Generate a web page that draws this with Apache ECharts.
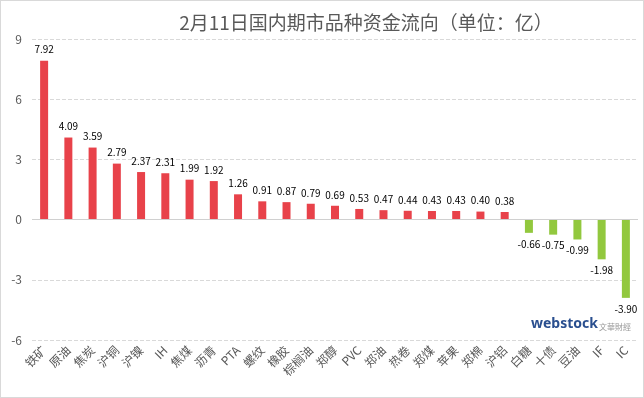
<!DOCTYPE html>
<html><head><meta charset="utf-8">
<script src="https://cdn.jsdelivr.net/npm/echarts@6/dist/echarts.min.js"></script>
<style>html,body{margin:0;padding:0;background:#fff}#c{width:644px;height:398px;box-sizing:border-box;border:1px solid #d9d9d9}</style>
</head><body><div id="c"></div>
<script>
const titleText = '2月11日国内期市品种资金流向（单位：亿）';
const categories = ['铁矿','原油','焦炭','沪铜','沪镍','IH','焦煤','沥青','PTA','螺纹','橡胶','棕榈油','郑醇','PVC','郑油','热卷','郑煤','苹果','郑棉','沪铝','白糖','十债','豆油','IF','IC'];
const values = [7.92,4.09,3.59,2.79,2.37,2.31,1.99,1.92,1.26,0.91,0.87,0.79,0.69,0.53,0.47,0.44,0.43,0.43,0.40,0.38,-0.66,-0.75,-0.99,-1.98,-3.90];
const yTicks = {min:-6, max:9, interval:3};
const posColor = '#E8424A', negColor = '#92C83E';
const chart = echarts.init(document.getElementById('c'), null, {renderer:'canvas'});
chart.setOption({
  animation:false,
  title:{text:titleText,left:360,top:7,textAlign:'center',textStyle:{fontFamily:'Noto Sans CJK SC',fontSize:19,fontWeight:'normal',color:'#595959'}},
  grid:{left:31,right:5,top:38,bottom:57,containLabel:false},
  xAxis:{type:'category',data:categories,axisLine:{show:false},axisTick:{show:false},
    axisLabel:{rotate:45,interval:0,fontSize:12,color:'#595959',fontFamily:'Noto Sans CJK SC',margin:8}},
  yAxis:{type:'value',min:yTicks.min,max:yTicks.max,interval:yTicks.interval,
    axisLine:{show:false},axisTick:{show:false},
    axisLabel:{fontSize:12,color:'#595959',margin:10,fontFamily:'Noto Sans CJK SC'},
    splitLine:{lineStyle:{type:'dashed',color:'#d9d9d9'}}},
  series:[{type:'bar',barWidth:8,
    data:values.map(v=>({value:v,itemStyle:{color:v>=0?posColor:negColor},
      label:{show:true,position:v>=0?'top':'bottom',formatter:v.toFixed(2),fontSize:10,color:'#000',fontFamily:'Noto Sans CJK SC',distance:6}})),
    markLine:{silent:true,symbol:'none',label:{show:false},lineStyle:{type:'solid',color:'#d0d0d0',width:1},data:[{yAxis:0}]}
  }],
  graphic:[
    {type:'text',left:530,top:316,style:{text:'webstock',fontSize:14,fontWeight:'bold',fill:'#2a4f8f',fontFamily:'Noto Sans'}},
    {type:'text',left:598,top:322,style:{text:'文華財經',fontSize:8,fill:'#999',fontFamily:'Noto Sans CJK TC'}}
  ]
});
</script></body></html>
